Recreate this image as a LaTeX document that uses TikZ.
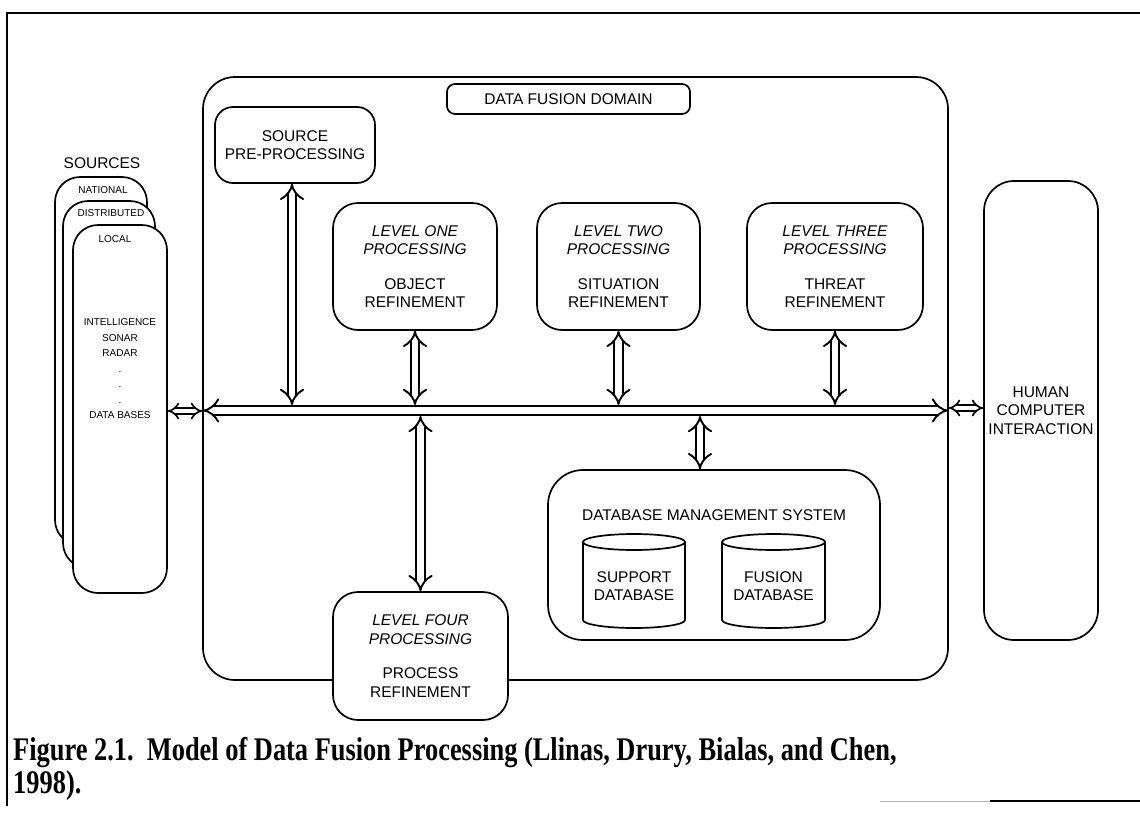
\documentclass[tikz,border=0pt]{standalone}
\usepackage{graphicx}
\usepackage{fontspec}
\setmainfont{Liberation Sans}
\newfontfamily\capfont{Liberation Serif}
\usetikzlibrary{arrows.meta}
\begin{document}
\begin{tikzpicture}[x=1pt,y=-1pt,
  box/.style={draw, line width=1.7pt, rounded corners=#1, fill=white, inner sep=0pt, align=center, font=\fontsize{15.5}{18.5}\selectfont},
  box/.default=22pt,
  lbl/.style={inner sep=0pt, align=center, font=\fontsize{15.5}{18.5}\selectfont},
  small/.style={inner sep=0pt, align=center, font=\fontsize{10}{15.5}\selectfont},
  dbl/.style={double, double distance=6.5pt, line width=1.9pt, {Implies}-{Implies}},
  dbls/.style={double, double distance=4pt, line width=1.7pt, {Implies}-{Implies}},
  frame/.style={line width=2pt}
]
\useasboundingbox (0,0) rectangle (1140,814);
\fill[white] (0,0) rectangle (1140,814);

% outer frame
\draw[frame] (7,806) -- (7,13) -- (1140,13);
\draw[gray!60, line width=1pt] (880,801) -- (990,801);
\draw[frame] (990,801) -- (1140,801);

% data fusion domain
\node[box=32pt, minimum width=745pt, minimum height=603pt] (dfd) at (575.5,378.5) {};
\node[box=8pt, minimum width=243pt, minimum height=30pt] (dfdl) at (568.5,99) {DATA FUSION DOMAIN};

\node[box=18pt, minimum width=160pt, minimum height=76pt] (spp) at (295,145) {SOURCE\\PRE-PROCESSING};

\node[box=25pt, minimum width=164pt, minimum height=127pt] (l1) at (415,266.5)
  {{\itshape LEVEL ONE}\\{\itshape PROCESSING}\\[16pt]OBJECT\\REFINEMENT};
\node[box=25pt, minimum width=163pt, minimum height=127pt] (l2) at (618.5,266.5)
  {{\itshape LEVEL TWO}\\{\itshape PROCESSING}\\[16pt]SITUATION\\REFINEMENT};
\node[box=25pt, minimum width=176pt, minimum height=127pt] (l3) at (835,266.5)
  {{\itshape LEVEL THREE}\\{\itshape PROCESSING}\\[16pt]THREAT\\REFINEMENT};

% DBMS
\node[box=35pt, minimum width=332pt, minimum height=170pt] (dbms) at (714,555) {};
\node[lbl] (dbmsl) at (714,515) {DATABASE MANAGEMENT SYSTEM};
\draw[line width=1.7pt] (583,542) -- (583,620) arc[start angle=180, end angle=360, x radius=51pt, y radius=8pt] -- (685,542);
\draw[line width=1.7pt] (634,542) ellipse[x radius=51pt, y radius=8pt];
\node[lbl] (sdb) at (634,586) {SUPPORT\\DATABASE};
\draw[line width=1.7pt] (722,542) -- (722,620) arc[start angle=180, end angle=360, x radius=51.5pt, y radius=8pt] -- (825,542);
\draw[line width=1.7pt] (773.5,542) ellipse[x radius=51.5pt, y radius=8pt];
\node[lbl] (fdb) at (773.5,586) {FUSION\\DATABASE};

% level four
\node[box=25pt, minimum width=175pt, minimum height=128pt] (l4) at (420.5,656)
  {{\itshape LEVEL FOUR}\\{\itshape PROCESSING}\\[16pt]PROCESS\\REFINEMENT};

% HCI
\node[box=30pt, minimum width=114pt, minimum height=459pt] (hci) at (1041,410.5) {HUMAN\\COMPUTER\\INTERACTION};

% sources
\node[lbl] (srcl) at (102,163) {SOURCES};
\node[box=25pt, minimum width=92pt, minimum height=368pt] (nat) at (101,361) {};
\node[small] (natl) at (103,190) {NATIONAL};
\node[box=25pt, minimum width=92pt, minimum height=367pt] (dist) at (109,384.5) {};
\node[small] (distl) at (111,213) {DISTRIBUTED};
\node[box=25pt, minimum width=94pt, minimum height=368pt] (loc) at (120,409) {};
\node[small] (locl) at (115,239) {LOCAL};
\node[small] (locc) at (120,369) {INTELLIGENCE\\SONAR\\RADAR\\.\\.\\.\\DATA BASES};

% bus
\coordinate (busL) at (203,410.5);
\coordinate (busR) at (948,410.5);
\coordinate (busT) at (0,405);
\coordinate (busB) at (0,416);
\draw[dbl] (busL) -- (busR);

\draw[dbl] (spp.south -| 292,0) -- (busT -| 292,0);
\draw[dbl] (l1.south) -- (l1.south |- busT);
\draw[dbl] (l2.south) -- (l2.south |- busT);
\draw[dbl] (l3.south) -- (l3.south |- busT);
\draw[dbl] (l4.north) -- (l4.north |- busB);
\draw[dbl] (dbms.north -| 700,0) -- (busB -| 700,0);

\draw[dbls] (loc.east |- 0,411) -- (dfd.west |- 0,411);
\draw[dbls] (dfd.east |- 0,408) -- (hci.west |- 0,408);

% caption
\node[anchor=base west, inner sep=0pt, font=\capfont\bfseries\fontsize{33}{36}\selectfont] (cap1) at (13,760)
  {\scalebox{0.8}[1]{Figure 2.1.\ \ Model of Data Fusion Processing (Llinas, Drury, Bialas, and Chen,}};
\node[anchor=base west, inner sep=0pt, font=\capfont\bfseries\fontsize{33}{36}\selectfont] (cap2) at (13,793)
  {\scalebox{0.8}[1]{1998).}};
\end{tikzpicture}
\end{document}
